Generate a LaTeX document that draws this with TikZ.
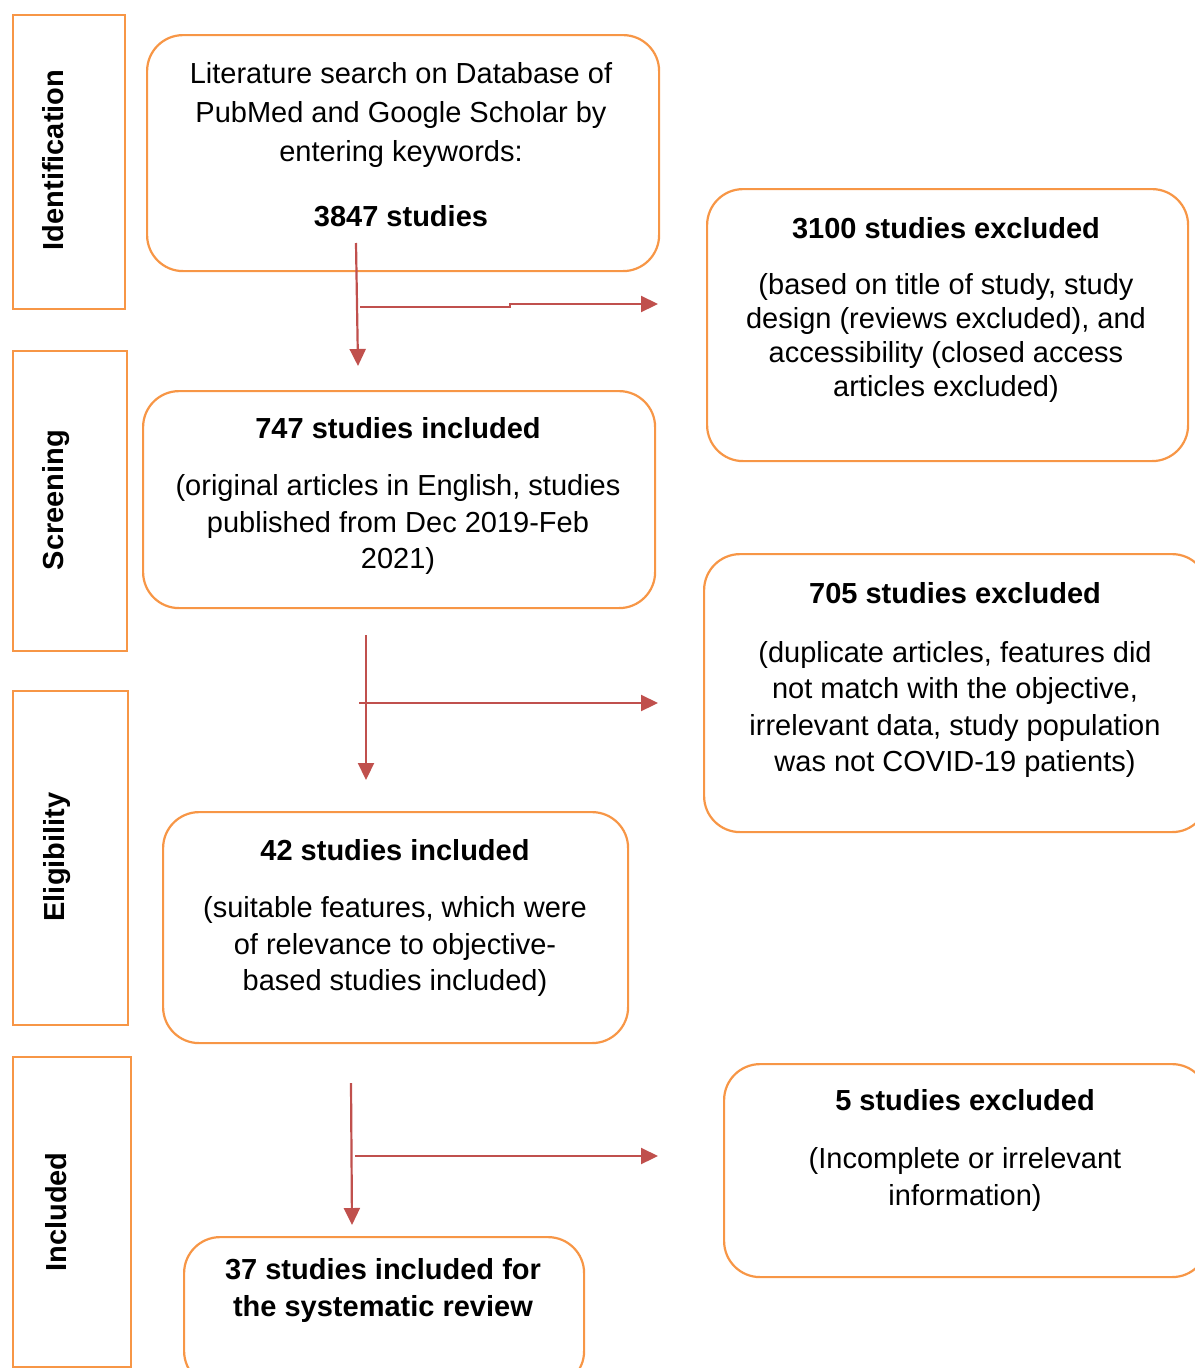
\documentclass[tikz,border=0pt]{standalone}
\usepackage{fontspec}
\setmainfont{Liberation Sans}
\usetikzlibrary{arrows.meta}
\definecolor{orng}{HTML}{F79646}
\definecolor{redc}{HTML}{C0504D}
\begin{document}
\begin{tikzpicture}[x=1pt,y=-1pt,
  stagebox/.style={draw=orng, line width=2.2pt, anchor=north west, inner sep=0pt},
  mainbox/.style={draw=orng, line width=2.2pt, rounded corners=36pt, anchor=north west, inner sep=0pt},
  txt/.style={anchor=north, align=center, inner sep=0pt},
  stagelabel/.style={rotate=90, anchor=base, inner sep=0pt, font=\fontsize{29}{35}\selectfont\bfseries},
  flow/.style={draw=redc, line width=2.2pt, -{Triangle[length=17pt,width=16pt]}},
  ]
\useasboundingbox (0,0) rectangle (1194,1368);
% stage boxes
\node[stagebox, minimum width=112pt, minimum height=294pt] (s1) at (12,14) {};
\node[stagebox, minimum width=114pt, minimum height=300pt] (s2) at (12,350) {};
\node[stagebox, minimum width=115pt, minimum height=334pt] (s3) at (12,690) {};
\node[stagebox, minimum width=118pt, minimum height=310pt] (s4) at (12,1056) {};
\node[stagelabel] (l1) at (63,160) {Identification};
\node[stagelabel] (l2) at (63,500) {Screening};
\node[stagelabel] (l3) at (64,857) {Eligibility};
\node[stagelabel] (l4) at (66,1212) {Included};
% main boxes
\node[mainbox, minimum width=512pt, minimum height=236pt] (b1) at (146,34) {};
\node[mainbox, minimum width=481pt, minimum height=272pt] (e1) at (706,188) {};
\node[mainbox, minimum width=512pt, minimum height=217pt] (b2) at (142,390) {};
\node[mainbox, minimum width=504pt, minimum height=278pt] (e2) at (703,553) {};
\node[mainbox, minimum width=465pt, minimum height=231pt] (b3) at (162,811) {};
\node[mainbox, minimum width=484pt, minimum height=213pt] (e3) at (723,1063) {};
\node[mainbox, minimum width=400pt, minimum height=150pt] (b4) at (183,1236) {};
% texts
\node[txt, font=\fontsize{29}{39}\selectfont] (b1t) at (401,62)
  {Literature search on Database of\\PubMed and Google Scholar by\\entering keywords:\\[26pt]\textbf{3847 studies}};
\node[txt, font=\fontsize{29}{34}\selectfont] (e1t) at (946,217)
  {\textbf{3100 studies excluded}\\[22pt](based on title of study, study\\design (reviews excluded), and\\accessibility (closed access\\articles excluded)};
\node[txt, font=\fontsize{29}{36.5}\selectfont] (b2t) at (398,417)
  {\textbf{747 studies included}\\[21pt](original articles in English, studies\\published from Dec 2019-Feb\\2021)};
\node[txt, font=\fontsize{29}{36.3}\selectfont] (e2t) at (955,582)
  {\textbf{705 studies excluded}\\[23pt](duplicate articles, features did\\not match with the objective,\\irrelevant data, study population\\was not COVID-19 patients)};
\node[txt, font=\fontsize{29}{36.5}\selectfont] (b3t) at (395,839)
  {\textbf{42 studies included}\\[21pt](suitable features, which were\\of relevance to objective-\\based studies included)};
\node[txt, font=\fontsize{29}{37}\selectfont] (e3t) at (965,1089)
  {\textbf{5 studies excluded}\\[21pt](Incomplete or irrelevant\\information)};
\node[txt, font=\fontsize{29}{37}\selectfont\bfseries] (b4t) at (383,1258)
  {37 studies included for\\the systematic review};
% connectors
\coordinate (v1s) at (356,243); \coordinate (v1e) at (358,366);
\coordinate (h1s) at (360,307); \coordinate (h1e) at (658,304);
\coordinate (v2s) at (366,635); \coordinate (v2e) at (366,780);
\coordinate (h2s) at (359,703); \coordinate (h2e) at (658,703);
\coordinate (v3s) at (351,1083); \coordinate (v3e) at (352,1225);
\coordinate (h3s) at (355,1156); \coordinate (h3e) at (658,1156);
\draw[flow] (v1s) -- (v1e);
\draw[flow] (h1s) -- ++(150,0) -- ++(0,-3) -- (h1e);
\draw[flow] (v2s) -- (v2e);
\draw[flow] (h2s) -- (h2e);
\draw[flow] (v3s) -- (v3e);
\draw[flow] (h3s) -- (h3e);
\end{tikzpicture}
\end{document}
